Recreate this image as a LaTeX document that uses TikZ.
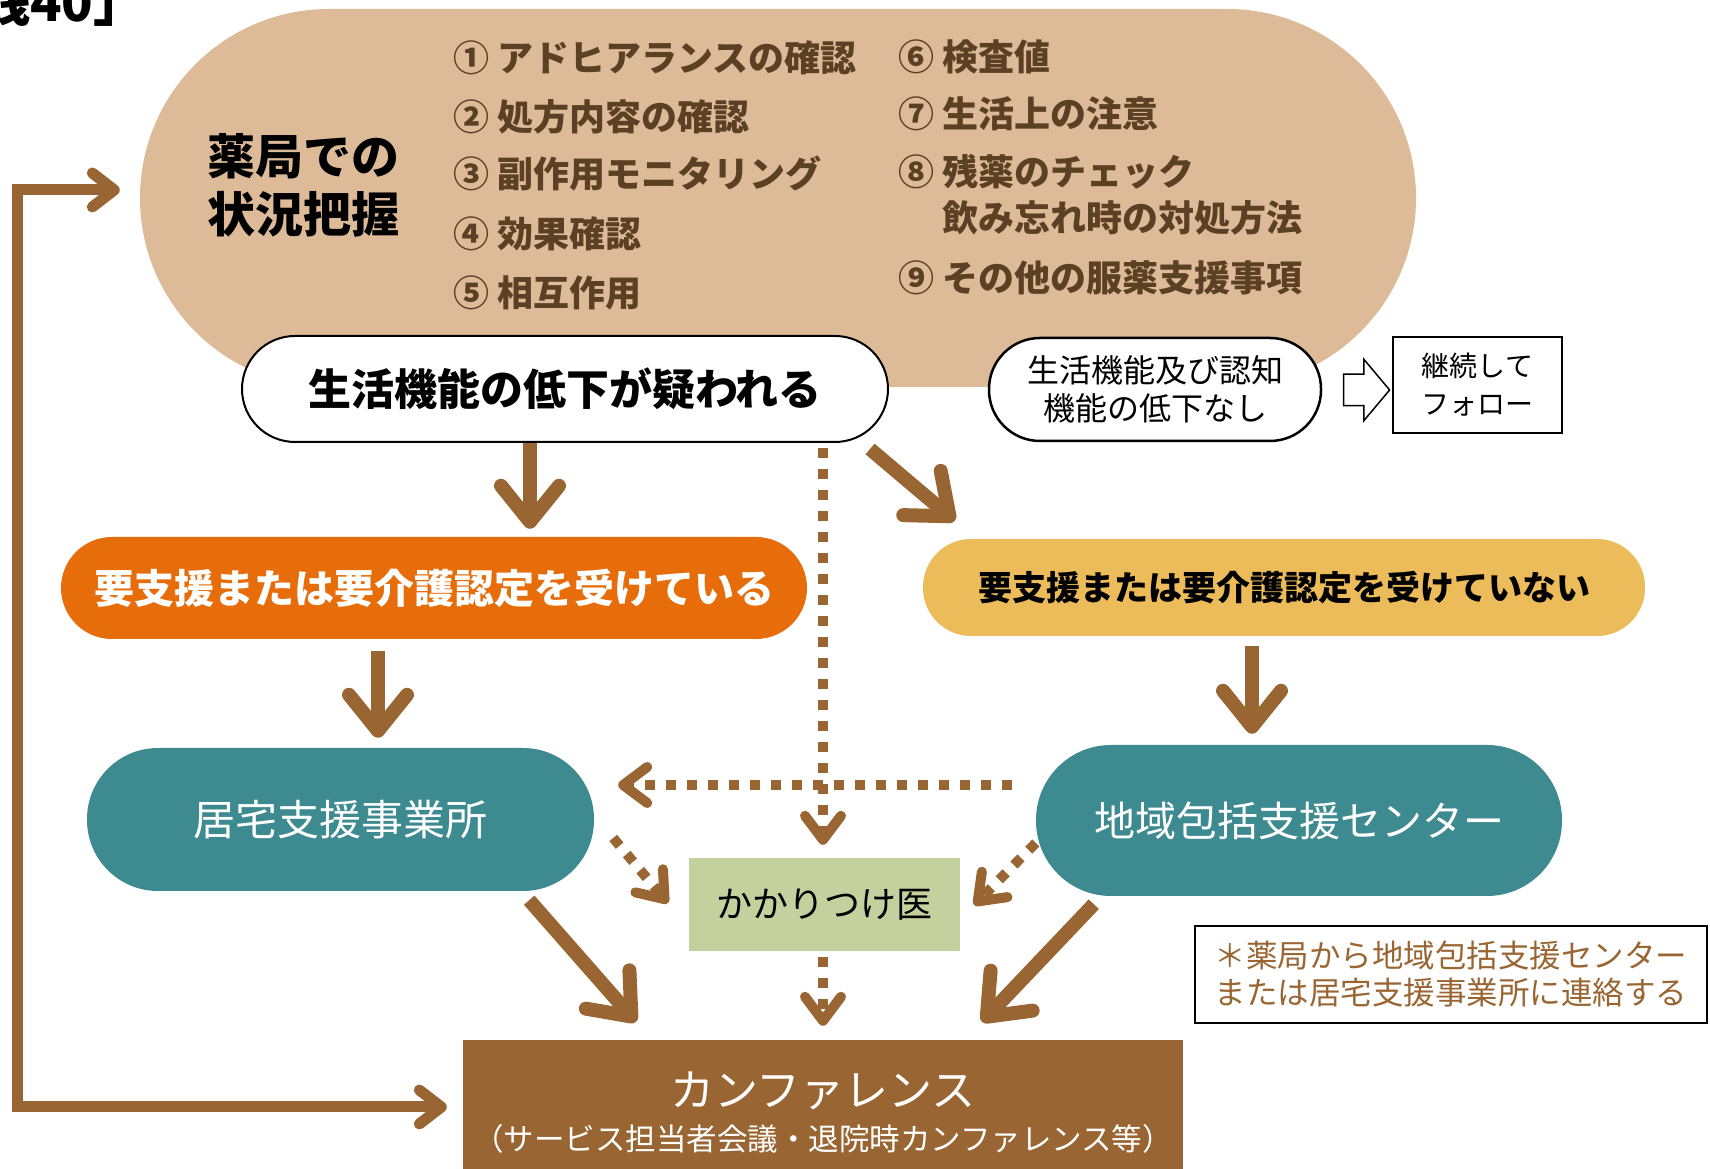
\documentclass[tikz,border=0pt]{standalone}
\usepackage{fontspec}
\setmainfont{Noto Sans CJK JP}
\usetikzlibrary{calc,arrows.meta,shapes.arrows}

\definecolor{pharm}{HTML}{DDBA98}
\definecolor{brn}{HTML}{996633}
\definecolor{txtbrn}{HTML}{5C4024}
\definecolor{orng}{HTML}{E76C0A}
\definecolor{ylw}{HTML}{EDBC5A}
\definecolor{tealbox}{HTML}{3D8A90}
\definecolor{docgreen}{HTML}{C4D09D}

\newcommand{\fsz}[2]{\fontsize{#1}{#2}\selectfont}

\begin{document}
\begin{tikzpicture}[x=1pt,y=1pt,
  item/.style={anchor=west, inner sep=0pt, text=txtbrn, font=\fsz{36}{46}\bfseries, align=left},
  bigarr/.style={draw=brn, line width=14pt, -{Straight Barb[length=36pt,width=58pt,round]}},
  dotarr/.style={draw=brn, line width=10pt, dash pattern=on 10pt off 11pt, -{Straight Barb[length=24pt,width=36pt,round]}},
  backline/.style={draw=brn, line width=11pt, {Straight Barb[length=22pt,width=34pt,round]}-{Straight Barb[length=22pt,width=34pt,round]}}]
  \useasboundingbox (0,0) rectangle (1710,1169);

  \node[anchor=base west, inner sep=0pt, font=\fsz{52}{60}\bfseries] (title) at (-22,1147) {践40」};

  % pharmacy assessment
  \node[fill=pharm, rounded corners=189pt, minimum width=1276pt, minimum height=378pt] (pharm) at (778,971) {};
  \node[font=\fsz{48}{58}\bfseries, align=left] (head) at (303,984) {薬局での\\状況把握};

  \node[item] (i1) at (453,1111) {① アドヒアランスの確認};
  \node[item] (i2) at (453,1052) {② 処方内容の確認};
  \node[item] (i3) at (453,995) {③ 副作用モニタリング};
  \node[item] (i4) at (453,935) {④ 効果確認};
  \node[item] (i5) at (453,876) {⑤ 相互作用};
  \node[item] (i6) at (898,1112) {⑥ 検査値};
  \node[item] (i7) at (898,1055) {⑦ 生活上の注意};
  \node[item] (i8) at (898,974) {⑧ 残薬のチェック\\\phantom{⑧ }飲み忘れ時の対処方法};
  \node[item] (i9) at (898,891) {⑨ その他の服薬支援事項};

  % decline or not
  \node[draw, line width=2pt, fill=white, rounded corners=53pt, minimum width=646pt, minimum height=106pt, font=\fsz{43}{50}\bfseries] (low) at (565,780) {生活機能の低下が疑われる};
  \node[draw, line width=2.5pt, fill=white, rounded corners=51pt, minimum width=332pt, minimum height=103pt, font=\fsz{32}{38}, align=center] (none) at (1155,779.5) {生活機能及び認知\\機能の低下なし};
  \node[single arrow, draw, line width=1.5pt, fill=white, minimum height=46pt, inner xsep=0pt, inner ysep=15pt, single arrow head extend=15pt, single arrow tip angle=100] (harr) at (1360,779) {};
  \node[draw, line width=1.5pt, minimum width=169pt, minimum height=96pt, font=\fsz{28}{38}, align=center] (follow) at (1477.5,784) {継続して\\フォロー};

  % certification
  \node[fill=orng, rounded corners=51pt, minimum width=746pt, minimum height=102pt, text=white, font=\fsz{40}{48}\bfseries] (yes) at (434,581) {要支援または要介護認定を受けている};
  \node[fill=ylw, rounded corners=48pt, minimum width=722pt, minimum height=97pt, font=\fsz{34}{40}\bfseries] (no) at (1284,581.5) {要支援または要介護認定を受けていない};

  \node[fill=tealbox, rounded corners=71pt, minimum width=507pt, minimum height=143pt, text=white, font=\fsz{42}{50}] (office) at (340.5,349.5) {居宅支援事業所};
  \node[fill=tealbox, rounded corners=75pt, minimum width=526pt, minimum height=151pt, text=white, font=\fsz{41}{50}] (support) at (1299,348.5) {地域包括支援センター};
  \node[fill=docgreen, minimum width=271pt, minimum height=93pt, font=\fsz{36}{44}] (doc) at (824.5,264.5) {かかりつけ医};

  % conference
  \node[fill=brn, minimum width=720pt, minimum height=129pt] (conf) at (823,64.5) {};
  \node[text=white, font=\fsz{44}{50}] (conft) at (823,78) {カンファレンス};
  \node[text=white, font=\fsz{30.5}{36}] (confs) at (823,30) {（サービス担当者会議・退院時カンファレンス等）};

  \node[draw, line width=1.5pt, minimum width=512pt, minimum height=97pt, text=brn, font=\fsz{31.5}{37}, align=center] (note) at (1451,194.5) {＊薬局から地域包括支援センター\\または居宅支援事業所に連絡する};

  % arrows
  \coordinate (bend) at (17,62);
  \draw[backline] ($(pharm.west)+(-20,8)$) -| (bend) -- ($(conf.west)+(-16,-2.5)$);

  \draw[bigarr] ($(low.south)+(-35,0)$) -- ($(yes.north)+(96,8)$);
  \draw[bigarr] ($(low.south east)+(-19,-6)$) -- ($(no.north west)+(32,18)$);
  \draw[bigarr] ($(yes.south)+(-56,-12)$) -- ($(office.north)+(37.5,10)$);
  \draw[bigarr] ($(no.south)+(-32,-10)$) -- ($(support.north)+(-47,11)$);
  \draw[bigarr] ($(office.south east)+(-65,-9)$) -- ($(conf.north)+(-187,18)$);
  \draw[bigarr] ($(support.south west)+(58,-8)$) -- ($(conf.north)+(159,18)$);

  \draw[dotarr] ($(doc.north |- low.south)+(-1.5,-5)$) -- ($(doc.north)+(-1.5,13)$);
  \draw[dotarr] ($(support.west)+(-24,35.5)$) -- ($(office.east)+(24,34.5)$);
  \draw[dotarr] ($(office.east)+(19,-18.5)$) -- ($(doc.west)+(-21,1.5)$);
  \draw[dotarr] ($(support.west)+(0,-22.5)$) -- ($(doc.east)+(14,-0.5)$);
  \draw[dotarr] ($(doc.south)+(-1.5,-6)$) -- ($(conf.north)+(0,14)$);
\end{tikzpicture}
\end{document}
